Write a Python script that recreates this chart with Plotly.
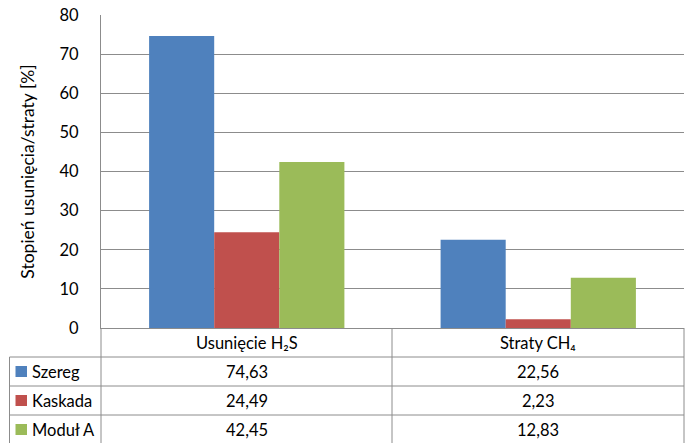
import plotly.graph_objects as go

# Data
categories = ["Usunięcie H₂S", "Straty CH₄"]
series_names = ["Szereg", "Kaskada", "Moduł A"]
szereg = [74.63, 22.56]
kaskada = [24.49, 2.23]
modul_a = [42.45, 12.83]
y_ticks = [0, 10, 20, 30, 40, 50, 60, 70, 80]

series_values = [szereg, kaskada, modul_a]
colors = ["#4F81BD", "#C0504D", "#9BBB59"]
grid_color = "#8C8C8C"
FONT = "Lato"
TABLE_SIZE = 16.5

W, H = 688, 443
L, R, T, B = 101, 684, 15, 328  # plot area in pixels


def px_x(x):
    return (x - L) / (R - L)


def px_y(y):
    return (B - y) / (B - T)


fig = go.Figure()
for name, vals, col in zip(series_names, series_values, colors):
    fig.add_trace(go.Bar(x=categories, y=vals, name=name, marker_color=col,
                         marker_line_width=0, showlegend=False))

shapes = []
annotations = []


def hline(x0, x1, y):
    shapes.append(dict(type="line", xref="paper", yref="paper",
                       x0=px_x(x0), x1=px_x(x1), y0=px_y(y), y1=px_y(y),
                       line=dict(color=grid_color, width=1)))


def vline(x, y0, y1):
    shapes.append(dict(type="line", xref="paper", yref="paper",
                       x0=px_x(x), x1=px_x(x), y0=px_y(y0), y1=px_y(y1),
                       line=dict(color=grid_color, width=1)))


# data table below the plot
row_tops = [357, 386, 415, 444]
col_edges = [101, 392, 684]
for y in row_tops:
    hline(9.5, R, y)
vline(9.5, 357, 450)
for x in col_edges:
    vline(x, B, 450)

col_centers = [(col_edges[i] + col_edges[i + 1]) / 2 for i in range(len(categories))]

for i, cat in enumerate(categories):
    annotations.append(dict(x=px_x(col_centers[i]), y=px_y(343), xref="paper", yref="paper",
                            text=cat, showarrow=False, xanchor="center", yanchor="middle",
                            font=dict(family=FONT, size=TABLE_SIZE, color="#000")))

for r, (name, vals, col) in enumerate(zip(series_names, series_values, colors)):
    yc = (row_tops[r] + row_tops[r + 1]) / 2
    shapes.append(dict(type="rect", xref="paper", yref="paper",
                       x0=px_x(15.5), x1=px_x(27), y0=px_y(yc - 5.5), y1=px_y(yc + 5.5),
                       fillcolor=col, line=dict(width=0)))
    annotations.append(dict(x=px_x(30), y=px_y(yc), xref="paper", yref="paper",
                            text=name, showarrow=False, xanchor="left", yanchor="middle",
                            font=dict(family=FONT, size=TABLE_SIZE, color="#000")))
    for i, v in enumerate(vals):
        annotations.append(dict(x=px_x(col_centers[i]), y=px_y(yc), xref="paper", yref="paper",
                                text=f"{v:.2f}".replace(".", ","), showarrow=False,
                                xanchor="center", yanchor="middle",
                                font=dict(family=FONT, size=TABLE_SIZE, color="#000")))

fig.update_layout(
    width=W, height=H,
    margin=dict(l=L, r=W - R, t=T, b=H - B, pad=0),
    paper_bgcolor="white", plot_bgcolor="white",
    barmode="group", bargap=0.33, bargroupgap=0,
    shapes=shapes, annotations=annotations,
    font=dict(family=FONT, color="#000"),
    xaxis=dict(showticklabels=False, showgrid=False, zeroline=False,
               showline=True, linecolor=grid_color, linewidth=1, ticks=""),
    yaxis=dict(range=[0, 80], tickvals=y_ticks, showgrid=True, gridcolor=grid_color,
               gridwidth=1, zeroline=False, showline=True, linecolor=grid_color,
               linewidth=1, ticks="", ticklabelstandoff=18,
               tickfont=dict(family=FONT, size=16.5, color="#000"),
               title=dict(text="Stopień usunięcia/straty [%]", standoff=20,
                          font=dict(family=FONT, size=17.5, color="#000"))),
)

fig.write_html("out.html")
